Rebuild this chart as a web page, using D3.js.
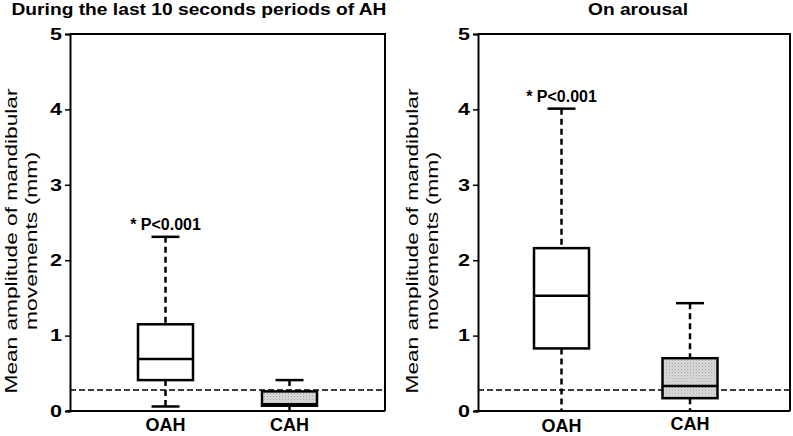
<!DOCTYPE html>
<html><head><meta charset="utf-8">
<script src="https://cdn.jsdelivr.net/npm/d3@7"></script>
<style>body{margin:0;background:#fff}svg{display:block;font-family:Arial,"Liberation Sans",sans-serif}</style>
</head><body><svg id="c" width="793" height="436"></svg>
<script>
const categories = ["OAH", "CAH"];
const yTicks = [0, 1, 2, 3, 4, 5];
const threshold = 0.28;
const pLabel = "* P<0.001";
const yLabelLines = ["Mean amplitude of mandibular", "movements (mm)"];
const titles = ["During the last 10 seconds periods of AH", "On arousal"];

// Panel 1: last 10 s periods of AH
const periodMin = [0.06, 0.00];
const periodQ1 = [0.41, 0.07];
const periodMedian = [0.69, 0.09];
const periodQ3 = [1.15, 0.26];
const periodMax = [2.31, 0.41];
// Panel 2: on arousal
const arousalMin = [0.00, 0.00];
const arousalQ1 = [0.83, 0.17];
const arousalMedian = [1.53, 0.33];
const arousalQ3 = [2.16, 0.70];
const arousalMax = [4.01, 1.43];

const svg = d3.select("#c");
const defs = svg.append("defs");
const pat = defs.append("pattern").attr("id","hatch").attr("patternUnits","userSpaceOnUse").attr("width",3).attr("height",3);
pat.append("rect").attr("width",3).attr("height",3).attr("fill","#d9d9d9");
pat.append("rect").attr("x",0).attr("y",0).attr("width",1).attr("height",1).attr("fill","#a8a8a8");
pat.append("rect").attr("x",1.5).attr("y",1.5).attr("width",1).attr("height",1).attr("fill","#bdbdbd");

const panels = [
  {x0:70, x1:385, top:34, bottom:411, padL:95.5, padR:95.5, title:titles[0], titleX:199, titleLen:375,
   lab1X:17, lab2X:37, stats:{min:periodMin,q1:periodQ1,med:periodMedian,q3:periodQ3,max:periodMax}, fills:["#fff","url(#hatch)"], labY:[431,431]},
  {x0:478, x1:790, top:34, bottom:411, padL:83.5, padR:100, title:titles[1], titleX:638, titleLen:100,
   lab1X:418, lab2X:438, stats:{min:arousalMin,q1:arousalQ1,med:arousalMedian,q3:arousalQ3,max:arousalMax}, fills:["#fff","url(#hatch)"], labY:[432,430]}
];

const boxW = 55, capW = 28;

panels.forEach(p => {
  const g = svg.append("g");
  const y = d3.scaleLinear().domain([0,5]).range([p.bottom, p.top]);
  const x = d3.scalePoint().domain(categories).range([p.x0 + p.padL, p.x1 - p.padR]);

  // title
  g.append("text").attr("x", p.titleX).attr("y", 15).attr("text-anchor","middle")
    .attr("font-weight","bold").attr("font-size",16.5)
    .attr("textLength", p.titleLen).attr("lengthAdjust","spacingAndGlyphs").text(p.title);

  // y-axis label
  [p.lab1X, p.lab2X].forEach((lx, i) => {
    const len = i === 0 ? 305 : 178;
    g.append("text").attr("transform", `translate(${lx},241) rotate(-90)`)
      .attr("text-anchor","middle").attr("font-size",17)
      .attr("textLength", len).attr("lengthAdjust","spacingAndGlyphs").text(yLabelLines[i]);
  });

  // frame top & right
  g.append("path").attr("d", `M${p.x0},${p.top}H${p.x1}V${p.bottom}`)
    .attr("fill","none").attr("stroke","#000").attr("stroke-width",2);
  // bottom axis line
  g.append("line").attr("x1", p.x0-3).attr("x2", p.x1).attr("y1", p.bottom).attr("y2", p.bottom)
    .attr("stroke","#000").attr("stroke-width",2);

  // y axis
  const ax = g.append("g").attr("transform", `translate(${p.x0},0)`)
    .call(d3.axisLeft(y).tickValues(yTicks).tickFormat(d3.format("d")).tickSizeOuter(0).tickSize(5).tickPadding(3));
  ax.select(".domain").attr("stroke-width",2);
  ax.selectAll(".tick line").attr("stroke-width",1.5);
  ax.selectAll(".tick text").attr("font-size",16.5).attr("font-weight","bold").attr("font-family","Arial, 'Liberation Sans', sans-serif")
    .attr("fill","#000").attr("textLength",12).attr("lengthAdjust","spacingAndGlyphs");

  // threshold dashed line
  g.append("line").attr("x1", p.x0).attr("x2", p.x1).attr("y1", y(threshold)).attr("y2", y(threshold))
    .attr("stroke","#000").attr("stroke-width",1.5).attr("stroke-dasharray","6,3");

  // boxes
  categories.forEach((c, i) => {
    const cx = x(c), s = p.stats;
    const wl = g.append("g").attr("stroke","#000");
    wl.append("line").attr("x1",cx).attr("x2",cx).attr("y1",y(s.max[i])).attr("y2",y(s.q3[i]))
      .attr("stroke-width",2.5).attr("stroke-dasharray","6,4");
    wl.append("line").attr("x1",cx).attr("x2",cx).attr("y1",y(s.q1[i])).attr("y2",y(s.min[i]))
      .attr("stroke-width",2.5).attr("stroke-dasharray","6,4");
    wl.append("line").attr("x1",cx-capW/2).attr("x2",cx+capW/2).attr("y1",y(s.max[i])).attr("y2",y(s.max[i]))
      .attr("stroke-width",2.5);
    if (s.min[i] > 0) {
      wl.append("line").attr("x1",cx-capW/2).attr("x2",cx+capW/2).attr("y1",y(s.min[i])).attr("y2",y(s.min[i]))
        .attr("stroke-width",2.5);
    }
    g.append("rect").attr("x",cx-boxW/2).attr("width",boxW).attr("y",y(s.q3[i]))
      .attr("height", y(s.q1[i]) - y(s.q3[i])).attr("fill", p.fills[i])
      .attr("stroke","#000").attr("stroke-width",2.5);
    g.append("line").attr("x1",cx-boxW/2).attr("x2",cx+boxW/2).attr("y1",y(s.med[i])).attr("y2",y(s.med[i]))
      .attr("stroke","#000").attr("stroke-width",2.5);

    // category label
    g.append("text").attr("x",cx).attr("y",p.labY[i]).attr("text-anchor","middle")
      .attr("font-size",18).attr("font-weight","bold").text(c);
  });

  // significance label above OAH
  const cx0 = x(categories[0]);
  g.append("text").attr("x", cx0).attr("y", y(p.stats.max[0]) - 7).attr("text-anchor","middle")
    .attr("font-size",16).attr("font-weight","bold").text(pLabel);
});
</script></body></html>
